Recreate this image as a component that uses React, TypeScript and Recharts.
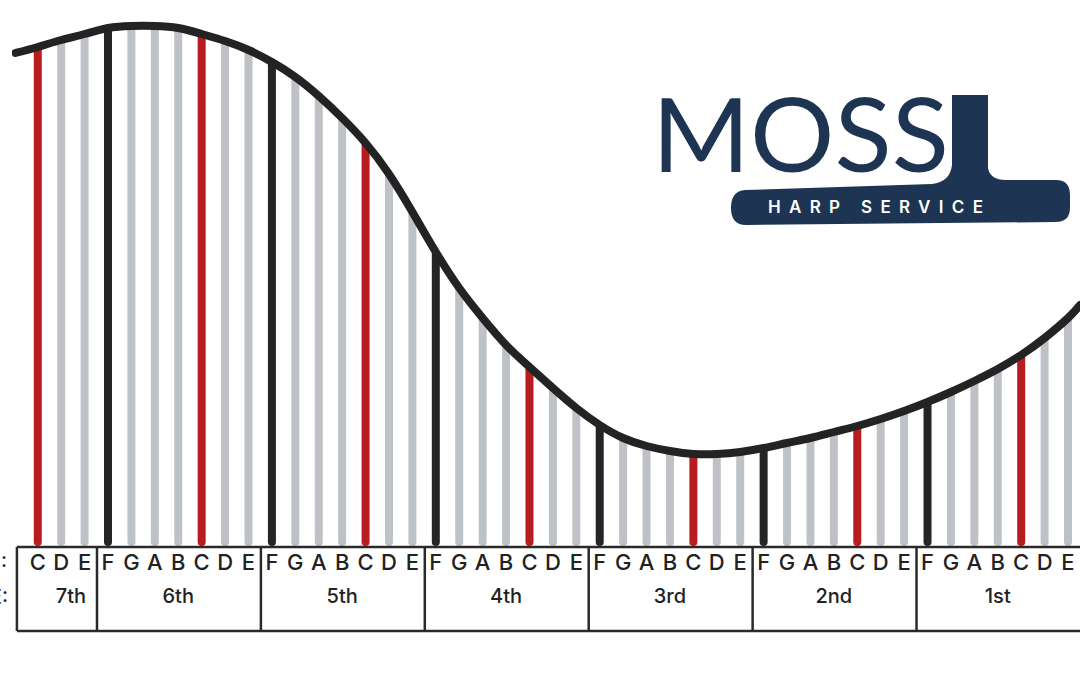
import React from 'react';
import { ComposedChart, Bar, Line, XAxis, YAxis, Cell, ReferenceLine } from 'recharts';

// String names, lowest (7th octave) on the left
const noteNames = [
  'C', 'D', 'E',
  'F', 'G', 'A', 'B', 'C', 'D', 'E',
  'F', 'G', 'A', 'B', 'C', 'D', 'E',
  'F', 'G', 'A', 'B', 'C', 'D', 'E',
  'F', 'G', 'A', 'B', 'C', 'D', 'E',
  'F', 'G', 'A', 'B', 'C', 'D', 'E',
  'F', 'G', 'A', 'B', 'C', 'D', 'E',
];

// Visible string lengths (arbitrary units)
const stringLengths = [
  499, 506, 512,
  518, 520, 520, 518, 512, 505, 496,
  484, 469, 450, 428, 403, 372, 334,
  294, 258, 228, 201, 179, 158, 138,
  121, 108, 100, 95, 92, 92, 94,
  98, 103, 108, 114, 120, 127, 135,
  144, 154, 165, 177, 191, 208, 228,
];

// Neck curve end points (beyond the first / last strings)
const neckStart = { i: -0.95, len: 493 };
const neckEnd = { i: 44.512, len: 241 };

const octaveNames = ['7th', '6th', '5th', '4th', '3rd', '2nd', '1st'];
const octaveLabelPos = [1.42, 6, 13, 20, 27, 34, 41];
const octaveStarts = [0, 3, 10, 17, 24, 31, 38];

const X_DOMAIN: [number, number] = [-1.1, 44.512];
const TABLE_DEPTH = 85;

const strings = noteNames.map((note, i) => ({ i, note, len: stringLengths[i] }));
const neck = [neckStart, ...strings.map((s) => ({ i: s.i, len: s.len })), neckEnd];
const octaveLabels = octaveNames.map((name, k) => ({ i: octaveLabelPos[k], name }));

const RED = '#b71c1e';
const BLACK = '#252525';
const GRAY = '#bec1c6';
const colorFor = (n: string) => (n === 'C' ? RED : n === 'F' ? BLACK : GRAY);

const FONT = 'Inter, "Open Sans", sans-serif';

const NoteTick = (props: any) => {
  const { x, y, payload } = props;
  const label = noteNames[payload.value] ?? '';
  return (
    <text x={x} y={y + 16} textAnchor="middle" dominantBaseline="central" fontFamily={FONT} fontSize={22} fontWeight={500} fill="#222">
      {label}
    </text>
  );
};

const OctaveTick = (props: any) => {
  const { x, y, payload } = props;
  const found = octaveLabels.find((o) => Math.abs(o.i - payload.value) < 1e-6);
  return (
    <text x={x} y={y + 18} textAnchor="middle" dominantBaseline="central" fontFamily={FONT} fontSize={20} fontWeight={500} fill="#222">
      {found ? found.name : ''}
    </text>
  );
};

const tableLine = { stroke: '#2a2a2a', strokeWidth: 2.5, ifOverflow: 'visible' as const };

export default function App() {
  const dividers = [-0.89, ...octaveStarts.slice(1).map((s) => s - 0.47)];
  return (
    <div style={{ position: 'absolute', left: 0, top: 0, width: 1080, height: 675, background: '#fff' }}>
      <ComposedChart
        width={1080}
        height={675}
        data={strings}
        margin={{ top: 0, right: 0, left: 12, bottom: 61 }}
      >
        <XAxis
          xAxisId="notes"
          dataKey="i"
          type="number"
          domain={X_DOMAIN}
          allowDataOverflow
          ticks={strings.map((s) => s.i)}
          interval={0}
          axisLine={false}
          tickLine={false}
          tickSize={0}
          tickMargin={0}
          height={32}
          tick={<NoteTick />}
        />
        <XAxis
          xAxisId="oct"
          dataKey="i"
          type="number"
          domain={X_DOMAIN}
          allowDataOverflow
          ticks={octaveLabelPos}
          interval={0}
          axisLine={false}
          tickLine={false}
          tickSize={0}
          tickMargin={0}
          height={36}
          tick={<OctaveTick />}
        />
        <YAxis hide type="number" domain={[0, 546]} allowDataOverflow />
        <Bar xAxisId="notes" dataKey="len" barSize={8} radius={[0, 0, 4, 4]} isAnimationActive={false}>
          {strings.map((s) => (
            <Cell key={s.i} fill={colorFor(s.note)} />
          ))}
        </Bar>
        <Line
          xAxisId="oct"
          data={octaveLabels}
          dataKey="i"
          stroke="none"
          dot={false}
          activeDot={false}
          legendType="none"
          isAnimationActive={false}
        />
        <Line
          xAxisId="notes"
          data={neck}
          dataKey="len"
          type="natural"
          stroke="#232323"
          strokeWidth={8}
          strokeLinecap="round"
          dot={false}
          activeDot={false}
          isAnimationActive={false}
        />
        <ReferenceLine xAxisId="notes" segment={[{ x: -0.89, y: -1 }, { x: X_DOMAIN[1], y: -1 }]} {...tableLine} />
        <ReferenceLine xAxisId="notes" segment={[{ x: -0.89, y: -TABLE_DEPTH }, { x: X_DOMAIN[1], y: -TABLE_DEPTH }]} {...tableLine} />
        {dividers.map((d) => (
          <ReferenceLine key={d} xAxisId="notes" segment={[{ x: d, y: -1 }, { x: d, y: -TABLE_DEPTH }]} {...tableLine} />
        ))}
      </ComposedChart>
      <svg width={1080} height={675} style={{ position: 'absolute', left: 0, top: 0, pointerEvents: 'none' }}>
        <text x={7} y={562} textAnchor="end" dominantBaseline="central" fontFamily={FONT} fontSize={20} fontWeight={500} fill="#222">NOTE:</text>
        <text x={8} y={597} textAnchor="end" dominantBaseline="central" fontFamily={FONT} fontSize={20} fontWeight={500} fill="#222">OCTAVE:</text>
        <text x={652} y={172} fontFamily='Lato, "Open Sans", sans-serif' fontSize={103} fontWeight={400} fill="#1d3553" textLength={297} lengthAdjust="spacingAndGlyphs">MOSS</text>
        <path
          d="M 745 190 L 932 184 Q 950 182 952 165 L 952 95 L 988 95 L 988 168 Q 990 180 1006 180 L 1056 180 Q 1070 180 1070 195 L 1070 208 Q 1070 222 1055 222 L 746 225 Q 731 225 731 208 Q 731 191 745 190 Z"
          fill="#1d3553"
        />
        <text x={768} y={213} fontFamily={FONT} fontSize={17} fontWeight={600} fill="#fff" textLength={215} lengthAdjust="spacing">HARP SERVICE</text>
      </svg>
    </div>
  );
}
